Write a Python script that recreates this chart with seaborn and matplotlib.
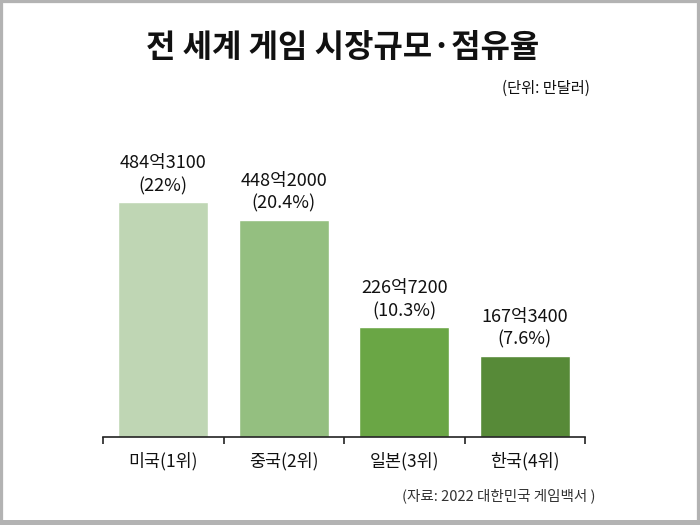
import matplotlib
matplotlib.use("Agg")
import matplotlib.pyplot as plt
import seaborn as sns
import pandas as pd
from matplotlib.patches import Rectangle
from matplotlib.ticker import FixedLocator

sns.set_style("white")
plt.rcParams['font.family'] = ['Noto Sans CJK KR', 'DejaVu Sans']

categories = ["미국(1위)", "중국(2위)", "일본(3위)", "한국(4위)"]
values = [4843100, 4482000, 2267200, 1673400]
value_labels = ["484억3100", "448억2000", "226억7200", "167억3400"]
shares = ["22%", "20.4%", "10.3%", "7.6%"]
colors = ["#bfd6b4", "#94bf80", "#6aa645", "#578a38"]

df = pd.DataFrame({"국가": categories, "규모": values})

fig = plt.figure(figsize=(7, 5.25), dpi=100)
ax = fig.add_axes([103/700, 88/525, 482/700, 291/525])
sns.barplot(data=df, x="국가", y="규모", hue="국가", palette=colors,
            width=0.75, legend=False, ax=ax, saturation=1)

ax.set_xlim(-0.5, 3.5)
ax.set_ylim(0, 6000000)
ax.set_xlabel("")
ax.set_ylabel("")
ax.set_yticks([])
for s in ["top", "left", "right"]:
    ax.spines[s].set_visible(False)
ax.spines["bottom"].set_color("#222222")
ax.spines["bottom"].set_linewidth(1.2)
ax.tick_params(axis="x", which="major", bottom=True, length=0, labelsize=12.5, pad=11,
               colors="#111111")
ax.xaxis.set_minor_locator(FixedLocator([-0.5, 0.5, 1.5, 2.5, 3.5]))
ax.tick_params(axis="x", which="minor", bottom=True, length=5, width=1.2,
               color="#222222", direction="out")

labels = [f"{v}\n({s})" for v, s in zip(value_labels, shares)]
for i, cont in enumerate(ax.containers):
    if len(ax.containers) == 1:
        ax.bar_label(cont, labels=labels, padding=5, fontsize=13,
                     linespacing=1.35, color="#111111")
    else:
        ax.bar_label(cont, labels=[labels[i]], padding=5, fontsize=13,
                     linespacing=1.35, color="#111111")

fig.text(0.49, 1 - 48/525, "전 세계 게임 시장규모·점유율", ha="center", va="center",
         fontsize=23, fontweight="bold", color="#111111")
fig.text(590/700, 1 - 88/525, "(단위: 만달러)", ha="right", va="center",
         fontsize=11, color="#111111")
fig.text(595/700, 1 - 496/525, "(자료: 2022 대한민국 게임백서 )", ha="right", va="center",
         fontsize=10.5, color="#333333")

# frame border
fig.patches.append(Rectangle((0, 0), 1, 1, transform=fig.transFigure, fill=False,
                             edgecolor="#b3b3b3", linewidth=4.5, zorder=10))
fig.patches.append(Rectangle((0, 0), 1, 5/525, transform=fig.transFigure, fill=True,
                             facecolor="#b3b3b3", edgecolor="none", zorder=10))

fig.savefig("out.png", dpi=100)
